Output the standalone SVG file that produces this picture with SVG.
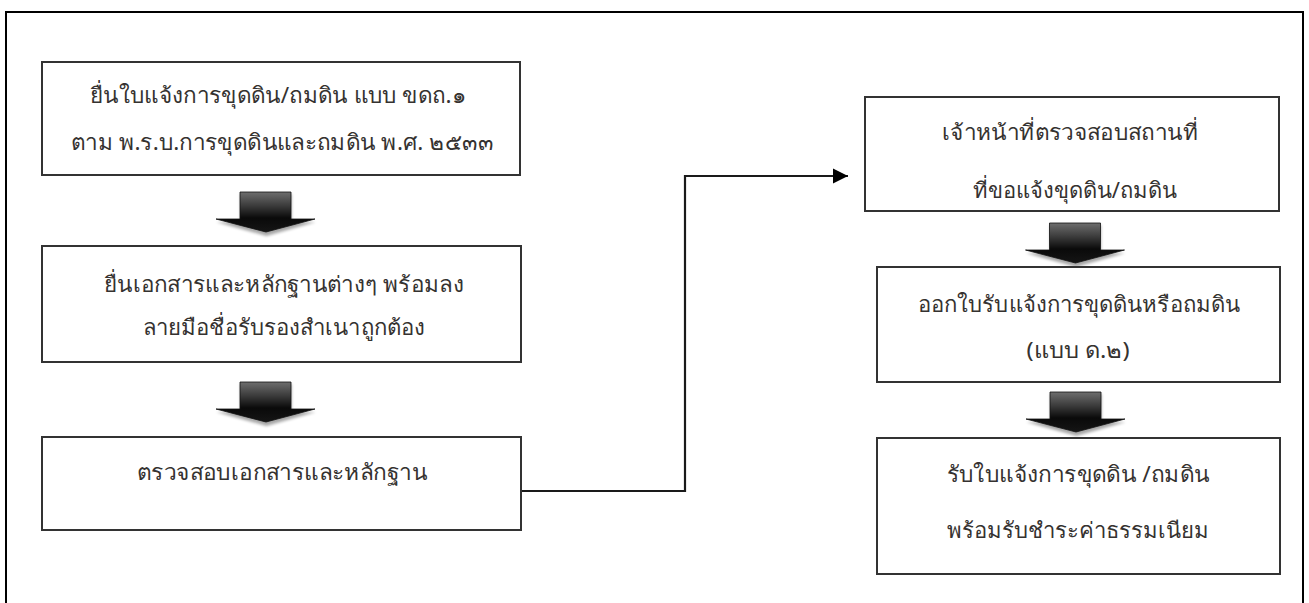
<svg xmlns="http://www.w3.org/2000/svg" width="1309" height="603" viewBox="0 0 1309 603">
<style>
.frame{fill:none;stroke:#000;stroke-width:2}
.box{fill:#fff;stroke:#333;stroke-width:2}
.t{font-family:"Noto Sans","DejaVu Sans",sans-serif;font-size:22px;fill:#353230;text-anchor:middle}
.conn{fill:none;stroke:#1a1a1a;stroke-width:2.2}
.barrow{fill:url(#bg);stroke:#111;stroke-width:0.8;stroke-linejoin:round}
.shadow{fill:#000;opacity:0.35;filter:url(#blur)}
</style>
<defs>
<linearGradient id="bg" x1="0" y1="0" x2="0" y2="1">
<stop offset="0" stop-color="#6e6e6e"/>
<stop offset="0.35" stop-color="#3a3a3a"/>
<stop offset="0.65" stop-color="#0a0a0a"/>
<stop offset="1" stop-color="#151515"/>
</linearGradient>
<filter id="blur" x="-20%" y="-20%" width="140%" height="160%"><feGaussianBlur stdDeviation="1.5"/></filter>
<marker id="ah" markerUnits="userSpaceOnUse" markerWidth="16" markerHeight="16" refX="15" refY="8" orient="auto">
<path d="M0,0.5 L15,8 L0,15.5 Z" fill="#000"/>
</marker>
<g id="blockArrow">
<path class="shadow" d="M-25,2 H26 V30 H50 L1,44 L-49,30 H-25 Z"/>
<path class="barrow" d="M-25.5,0 H25.5 V27 H49.5 L0.5,40 L-49.5,27 H-25.5 Z"/>
</g>
</defs>
<path class="frame" d="M6,604 V12 H1303 V604"/>
<g id="connectors">
<path class="conn" d="M521,491 H685 V176 H848" marker-end="url(#ah)"/>
<use href="#blockArrow" x="265.5" y="192"/>
<use href="#blockArrow" x="265.5" y="382"/>
<use href="#blockArrow" x="1075" y="223"/>
<use href="#blockArrow" x="1075.5" y="392"/>
</g>
<g id="node1">
<rect class="box" x="42" y="62" width="478" height="113"/>
<text class="t" x="278" y="103" textLength="376" lengthAdjust="spacingAndGlyphs">ยื่นใบแจ้งการขุดดิน/ถมดิน แบบ ขดถ.๑</text>
<text class="t" x="282" y="150" textLength="422" lengthAdjust="spacingAndGlyphs">ตาม พ.ร.บ.การขุดดินและถมดิน พ.ศ. ๒๕๓๓</text>
</g>
<g id="node2">
<rect class="box" x="42" y="246" width="479" height="116"/>
<text class="t" x="284" y="292" textLength="360" lengthAdjust="spacingAndGlyphs">ยื่นเอกสารและหลักฐานต่างๆ พร้อมลง</text>
<text class="t" x="284" y="335" textLength="282" lengthAdjust="spacingAndGlyphs">ลายมือชื่อรับรองสำเนาถูกต้อง</text>
</g>
<g id="node3">
<rect class="box" x="42" y="437" width="479" height="93"/>
<text class="t" x="282" y="480" textLength="290" lengthAdjust="spacingAndGlyphs">ตรวจสอบเอกสารและหลักฐาน</text>
</g>
<g id="node4">
<rect class="box" x="865" y="97" width="414" height="114"/>
<text class="t" x="1070" y="140" textLength="256" lengthAdjust="spacingAndGlyphs">เจ้าหน้าที่ตรวจสอบสถานที่</text>
<text class="t" x="1075" y="198" textLength="204" lengthAdjust="spacingAndGlyphs">ที่ขอแจ้งขุดดิน/ถมดิน</text>
</g>
<g id="node5">
<rect class="box" x="877" y="267" width="403" height="115"/>
<text class="t" x="1079" y="312" textLength="322" lengthAdjust="spacingAndGlyphs">ออกใบรับแจ้งการขุดดินหรือถมดิน</text>
<text class="t" x="1078" y="358" textLength="103" lengthAdjust="spacingAndGlyphs">(แบบ ด.๒)</text>
</g>
<g id="node6">
<rect class="box" x="877" y="438" width="403" height="136"/>
<text class="t" x="1078" y="482" textLength="263" lengthAdjust="spacingAndGlyphs">รับใบแจ้งการขุดดิน /ถมดิน</text>
<text class="t" x="1078" y="538" textLength="263" lengthAdjust="spacingAndGlyphs">พร้อมรับชำระค่าธรรมเนียม</text>
</g>
</svg>
